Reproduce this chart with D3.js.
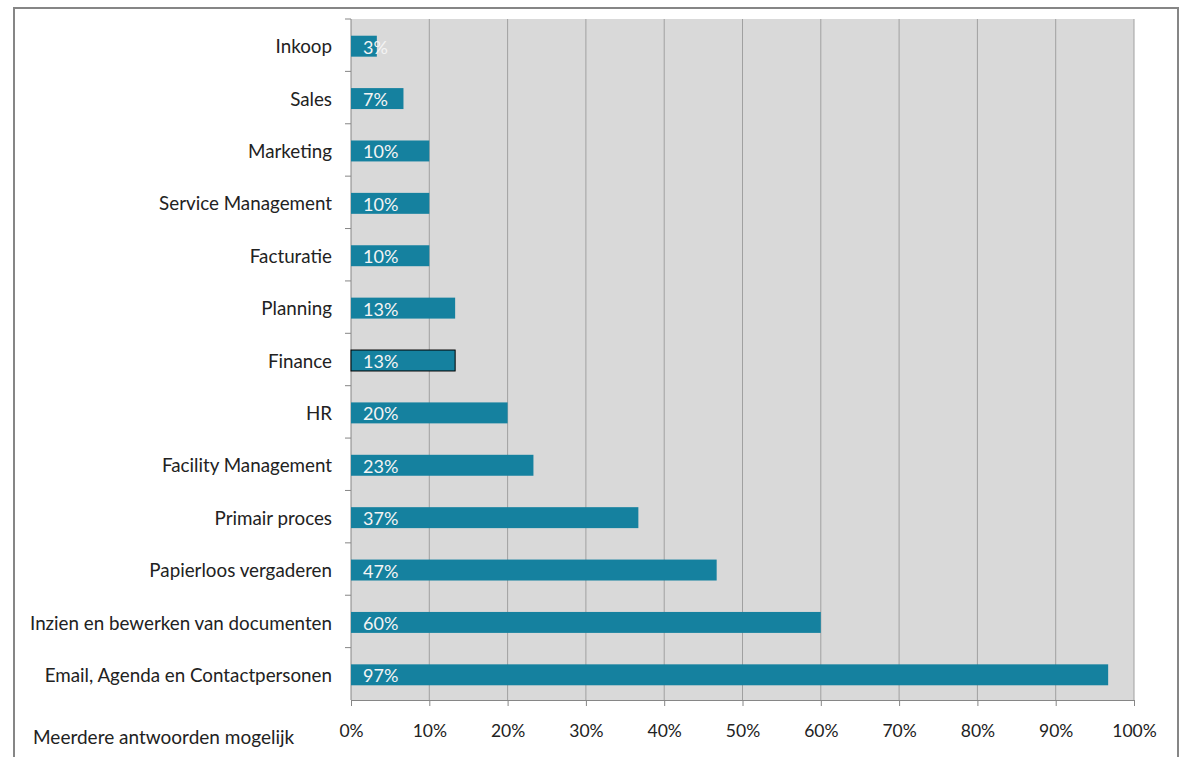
<!DOCTYPE html>
<html>
<head>
<meta charset="utf-8">
<script src="https://cdn.jsdelivr.net/npm/d3@7"></script>
<style>
  body { margin: 0; background: #fff; }
  svg text { font-family: Lato, "Open Sans", sans-serif; }
</style>
</head>
<body>
<svg width="1185" height="757"></svg>
<script>
// share of 30 respondents per application area
const categories = [
  'Inkoop', 'Sales', 'Marketing', 'Service Management', 'Facturatie', 'Planning',
  'Finance', 'HR', 'Facility Management', 'Primair proces', 'Papierloos vergaderen',
  'Inzien en bewerken van documenten', 'Email, Agenda en Contactpersonen'
]
const values = [3.3, 6.7, 10, 10, 10, 13.3, 13.3, 20, 23.3, 36.7, 46.7, 60, 96.7]
const labels = ['3%', '7%', '10%', '10%', '10%', '13%', '13%', '20%', '23%', '37%', '47%', '60%', '97%']
const ticks = [0, 10, 20, 30, 40, 50, 60, 70, 80, 90, 100]
const note = 'Meerdere antwoorden mogelijk'

const svg = d3.select('svg')
const plot = { left: 351, right: 1134, top: 19, bottom: 700 }

// outer frame
svg.append('rect')
  .attr('x', 14).attr('y', 8)
  .attr('width', 1164).attr('height', 770)
  .attr('fill', 'none')
  .attr('stroke', '#868686')
  .attr('stroke-width', 2)

const x = d3.scaleLinear().domain([0, 100]).range([plot.left, plot.right])
const y = d3.scaleBand().domain(categories).range([plot.top, plot.bottom]).paddingInner(0.6).paddingOuter(0.3)
const yTicks = d3.scaleBand().domain(categories).range([plot.top, plot.bottom])

// plot background
svg.append('rect')
  .attr('x', plot.left).attr('y', plot.top)
  .attr('width', plot.right - plot.left).attr('height', plot.bottom - plot.top)
  .attr('fill', '#d9d9d9')

// gridlines
svg.append('g')
  .selectAll('line')
  .data(ticks.slice(1))
  .join('line')
  .attr('x1', d => x(d)).attr('x2', d => x(d))
  .attr('y1', plot.top).attr('y2', plot.bottom)
  .attr('stroke', '#a0a0a0')
  .attr('stroke-width', 1)

// x axis
const xAxis = d3.axisBottom(x).tickValues(ticks).tickSize(6).tickPadding(19)
  .tickFormat(d => d + '%')
const gx = svg.append('g').attr('transform', `translate(0, ${plot.bottom})`).call(xAxis)
gx.select('.domain').attr('stroke', '#868686')
gx.selectAll('.tick line').attr('stroke', '#868686')
gx.selectAll('.tick text').attr('font-size', '17.5px').attr('fill', '#222')
  .attr('font-family', 'Lato, sans-serif')

// y axis line + ticks at band boundaries
svg.append('line')
  .attr('x1', plot.left).attr('x2', plot.left).attr('y1', plot.top).attr('y2', plot.bottom)
  .attr('stroke', '#868686')
svg.append('g')
  .selectAll('line')
  .data(categories)
  .join('line')
  .attr('x1', plot.left - 6).attr('x2', plot.left)
  .attr('y1', d => yTicks(d)).attr('y2', d => yTicks(d))
  .attr('stroke', '#868686')

// category labels
svg.append('g')
  .selectAll('text')
  .data(categories)
  .join('text')
  .attr('x', 332)
  .attr('y', d => yTicks(d) + yTicks.bandwidth() / 2 + 1.5)
  .attr('dy', '0.35em')
  .attr('text-anchor', 'end')
  .attr('font-size', '18.8px')
  .attr('fill', '#222')
  .text(d => d)

// bars
svg.append('g')
  .selectAll('rect')
  .data(values)
  .join('rect')
  .attr('x', x(0))
  .attr('y', (d, i) => y(categories[i]) + 1)
  .attr('width', d => x(d) - x(0))
  .attr('height', y.bandwidth())
  .attr('fill', '#15819f')
  .attr('stroke', (d, i) => categories[i] === 'Finance' ? '#000' : 'none')
  .attr('stroke-width', 1)

// value labels
svg.append('g')
  .selectAll('text')
  .data(labels)
  .join('text')
  .attr('x', x(0) + 12)
  .attr('y', (d, i) => y(categories[i]) + y.bandwidth() / 2 + 2)
  .attr('dy', '0.36em')
  .attr('font-size', '18px')
  .attr('fill', '#f4f4f4')
  .text(d => d)

svg.append('text')
  .attr('x', 33).attr('y', 744)
  .attr('font-size', '19px')
  .attr('fill', '#222')
  .text(note)
</script>
</body>
</html>
